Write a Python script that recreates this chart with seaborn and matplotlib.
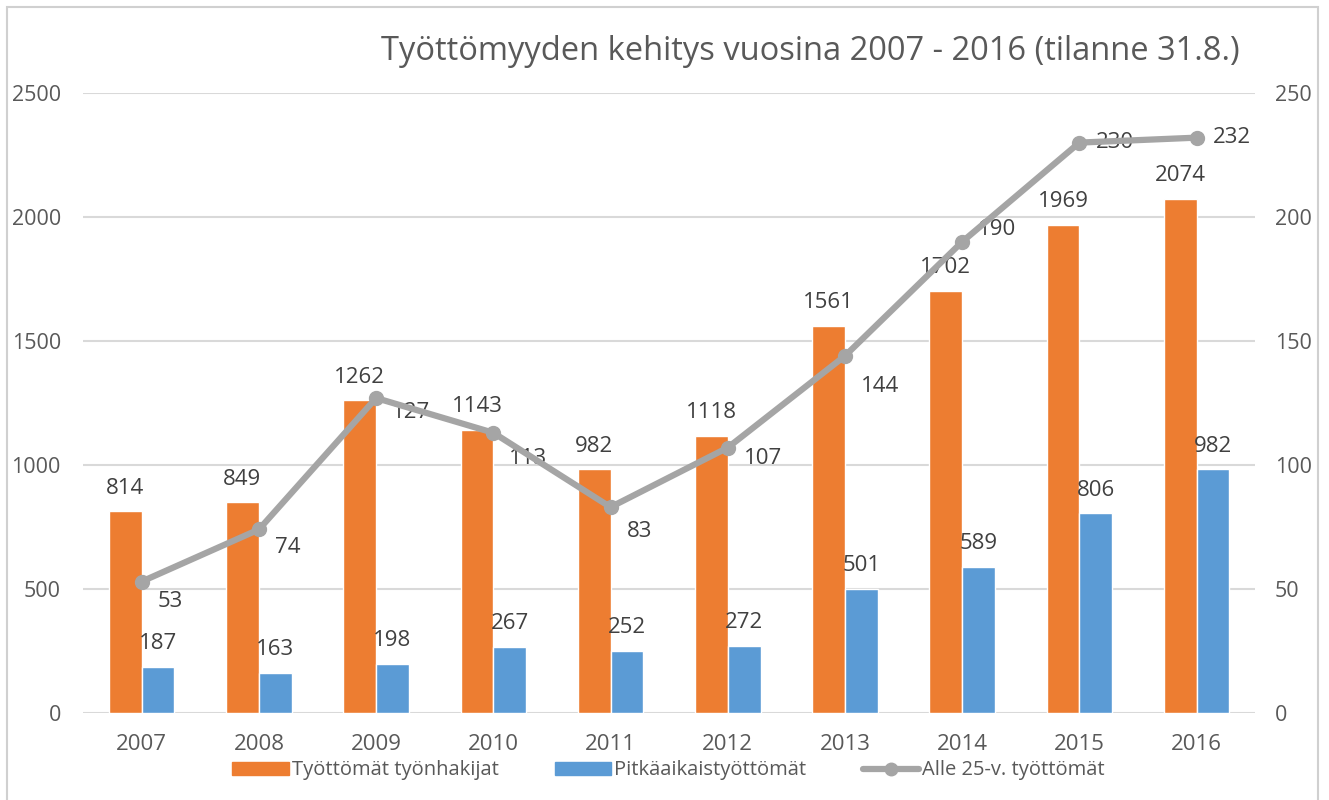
import pandas as pd
import numpy as np
import matplotlib
matplotlib.use("Agg")
import matplotlib.pyplot as plt
import seaborn as sns
from matplotlib.patches import Rectangle

# Data
years = ["2007", "2008", "2009", "2010", "2011", "2012", "2013", "2014", "2015", "2016"]
jobseekers = [814, 849, 1262, 1143, 982, 1118, 1561, 1702, 1969, 2074]
long_term = [187, 163, 198, 267, 252, 272, 501, 589, 806, 982]
under25 = [53, 74, 127, 113, 83, 107, 144, 190, 230, 232]

s_jobs = "Työttömät työnhakijat"
s_long = "Pitkäaikaistyöttömät"
s_young = "Alle 25-v. työttömät"

# label nudges for the line values (pixels, down is positive)
young_label_dy = [20, 18, 14, 26, 24, 11, 31, -12, 0, 0]

orange = "#ED7D31"
blue = "#5B9BD5"
grey = "#A5A5A5"
text_col = "#595959"

df = pd.DataFrame({
    "year": years * 2,
    "value": jobseekers + long_term,
    "series": [s_jobs] * len(years) + [s_long] * len(years),
})

sns.set_theme(style="white")
plt.rcParams["font.family"] = ["Open Sans", "DejaVu Sans"]

fig = plt.figure(figsize=(13.29, 8), dpi=100)
ax = fig.add_axes([0.0625, 0.10875, 0.882, 0.775])

sns.barplot(data=df, x="year", y="value", hue="series", order=years,
            palette=[orange, blue], width=0.56, saturation=1, ax=ax, legend=False)

ax.set_ylim(0, 2500)
ax.set_yticks(range(0, 2501, 500))
ax.set_xlim(-0.5, len(years) - 0.5)
ax.set_xlabel("")
ax.set_ylabel("")
ax.grid(axis="y", color="#D9D9D9", linewidth=1.5)
ax.set_axisbelow(True)
for sp in ax.spines.values():
    sp.set_visible(False)
ax.tick_params(axis="y", length=0, pad=16, labelsize=15.5, labelcolor=text_col)
ax.tick_params(axis="x", length=0, pad=15, labelsize=16, labelcolor=text_col)

for cont in ax.containers:
    ax.bar_label(cont, fmt="%d", padding=9, fontsize=16, color="#404040")

ax2 = ax.twinx()
ax2.set_ylim(0, 250)
ax2.set_yticks(range(0, 251, 50))
xpos = np.arange(len(years))
ax2.plot(xpos, under25, color=grey, linewidth=4.5, marker="o", markersize=10, zorder=5)
for sp in ax2.spines.values():
    sp.set_visible(False)
ax2.tick_params(axis="y", length=0, pad=14, labelsize=15.5, labelcolor=text_col)
ax2.grid(False)
for i, v in enumerate(under25):
    ax2.annotate(str(v), (xpos[i], v), xytext=(16, -young_label_dy[i]),
                 textcoords="offset pixels", ha="left", va="center",
                 fontsize=16, color="#404040")

fig.text(0.61, 0.935, "Työttömyyden kehitys vuosina 2007 - 2016 (tilanne 31.8.)",
         ha="center", va="center", fontsize=23.5, color=text_col)

handles = [
    Rectangle((0, 0), 1, 1, color=orange),
    Rectangle((0, 0), 1, 1, color=blue),
    plt.Line2D([0], [0], color=grey, linewidth=4.5, marker="o", markersize=9),
]
fig.legend(handles, [s_jobs, s_long, s_young], loc="center", ncol=3,
           bbox_to_anchor=(0.503, 0.037), frameon=False, fontsize=14.5,
           handlelength=2.8, handleheight=0.65, columnspacing=2.8, handletextpad=0.15,
           labelcolor=text_col)

# light frame round the chart area
fig.patches.append(Rectangle((0.0053, -0.02), 0.9864, 1.011, transform=fig.transFigure,
                             fill=False, edgecolor="#D0D0D0", linewidth=1.5))

fig.savefig("out.png", dpi=100)
